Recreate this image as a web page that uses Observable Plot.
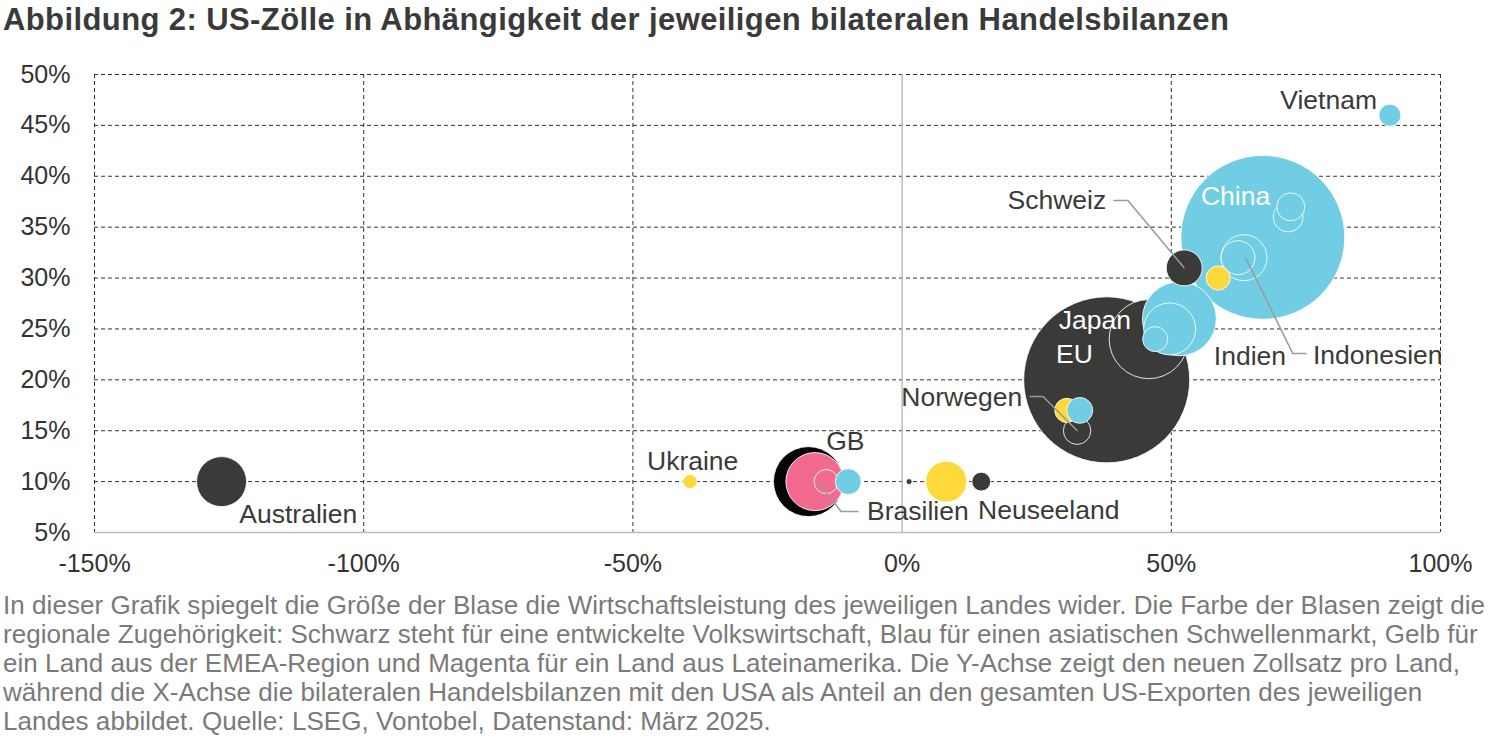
<!DOCTYPE html>
<html>
<head>
<meta charset="utf-8">
<script src="https://cdn.jsdelivr.net/npm/d3@7"></script>
<script src="https://cdn.jsdelivr.net/npm/@observablehq/plot@0.6"></script>
<style>
  body { margin: 0; background: #fff; font-family: "Liberation Sans", Arial, sans-serif; }
  #title { height: 45px; line-height: 40px; font-size: 31px; letter-spacing: 0.4px; font-weight: bold; color: #3a3a3a; padding-left: 3px; white-space: nowrap; }
  #caption { font-size: 26px; line-height: 29px; letter-spacing: 0.05px; color: #7a7a7a; padding-left: 3px; white-space: nowrap; }
  svg { display: block; }
</style>
</head>
<body>
<div id="title">Abbildung 2: US-Zölle in Abhängigkeit der jeweiligen bilateralen Handelsbilanzen</div>
<div id="chart"></div>
<div id="caption">In dieser Grafik spiegelt die Größe der Blase die Wirtschaftsleistung des jeweiligen Landes wider. Die Farbe der Blasen zeigt die<br>regionale Zugehörigkeit: Schwarz steht für eine entwickelte Volkswirtschaft, Blau für einen asiatischen Schwellenmarkt, Gelb für<br>ein Land aus der EMEA-Region und Magenta für ein Land aus Lateinamerika. Die Y-Achse zeigt den neuen Zollsatz pro Land,<br>während die X-Achse die bilateralen Handelsbilanzen mit den USA als Anteil an den gesamten US-Exporten des jeweiligen<br>Landes abbildet. Quelle: LSEG, Vontobel, Datenstand: März 2025.</div>
<script>
// Bubbles in drawing order (bottom to top)
const countries = ["EU","China","Japan","Indien","Südkorea","Malaysia","GB","Brasilien","Lateinamerika klein","Singapur","Australien","Indonesien","Taiwan","Thailand","Asien klein","Schweiz","Südafrika","Norwegen","Israel","Philippinen","Saudi-Arabien","Vietnam","Neuseeland","Ukraine","Entwickelt klein"];
const tradeBalance = [38.0, 67.0, 45.8, 51.5, 49.7, 47.0, -17.4, -16.2, -14.1, -10.0, -126.4, 63.5, 62.4, 71.7, 72.2, 52.4, 58.7, 32.5, 30.6, 33.0, 8.2, 90.6, 14.7, -39.4, 1.3];
const tariff = [20, 34, 24, 26, 25, 24, 10, 10, 10, 10, 10, 32, 32, 36, 37, 31, 30, 15, 17, 17, 10, 46, 10, 10, 10];
const gdp = [19.4, 18.9, 4.4, 3.85, 1.9, 0.44, 3.45, 2.37, 0.41, 0.47, 1.76, 1.49, 0.81, 0.63, 0.55, 0.91, 0.41, 0.53, 0.41, 0.47, 1.18, 0.34, 0.25, 0.14, 0.025];
const region = ["Entwickelt","Asien","Entwickelt","Asien","Asien","Asien","Großbritannien","Lateinamerika","Lateinamerika","Asien","Entwickelt","Asien","Asien","Asien","Asien","Entwickelt","EMEA","Entwickelt","EMEA","Asien","EMEA","Asien","Entwickelt","EMEA","Entwickelt"];

const regions = ["Entwickelt","Asien","EMEA","Lateinamerika","Großbritannien"];
const regionColors = ["#3a3b39","#70cde3","#fdda3a","#f26a8d","#050505"];

const yTicks = [5,10,15,20,25,30,35,40,45,50];
const xTicks = [-150,-100,-50,0,50,100];

// Label annotations (data units)
const labelStart = [
  {text:"Indien", x:57.9, y:22.3},
  {text:"Indonesien", x:76.3, y:22.4},
  {text:"GB", x:-14.1, y:13.9},
  {text:"Australien", x:-123.1, y:6.8},
  {text:"Brasilien", x:-6.5, y:7.1},
  {text:"Neuseeland", x:14.1, y:7.2}
];
const labelEnd = [
  {text:"Vietnam", x:88.2, y:47.4},
  {text:"Schweiz", x:37.9, y:37.6},
  {text:"Norwegen", x:22.3, y:18.3}
];
const labelMiddle = [
  {text:"Ukraine", x:-38.9, y:12.0}
];
const labelWhite = [
  {text:"China", x:55.5, y:38.0},
  {text:"Japan", x:29.1, y:25.8},
  {text:"EU", x:28.6, y:22.5}
];
const leaders = [
  {name:"Schweiz", x:39.35, y:37.61},{name:"Schweiz", x:41.95, y:37.61},{name:"Schweiz", x:52.35, y:31.03},
  {name:"Indonesien", x:75.0, y:22.58},{name:"Indonesien", x:72.58, y:22.58},{name:"Indonesien", x:63.86, y:31.92},
  {name:"Norwegen", x:23.76, y:18.36},{name:"Norwegen", x:26.17, y:18.36},{name:"Norwegen", x:32.49, y:15.02},
  {name:"Brasilien", x:-8.17, y:7.06},{name:"Brasilien", x:-11.32, y:7.06},{name:"Brasilien", x:-15.59, y:9.91}
];

const bubbles = countries.map((c, i) => ({name: c, x: tradeBalance[i], y: tariff[i], size: gdp[i], region: region[i]}));

const chart = Plot.plot({
  width: 1500,
  height: 546,
  marginLeft: 94,
  marginRight: 60,
  marginTop: 29,
  marginBottom: 59,
  style: {fontFamily: "'Liberation Sans', Arial, sans-serif", fontSize: "25px", color: "#333", background: "#fff"},
  x: {domain: [-150, 100]},
  y: {domain: [5, 50]},
  r: {type: "sqrt", domain: [0, 19.4], range: [0, 83]},
  color: {domain: regions, range: regionColors},
  marks: [
    Plot.gridY(yTicks.filter(d => d !== 5), {stroke: "#333", strokeOpacity: 1, strokeWidth: 1, strokeDasharray: "4,3"}),
    Plot.gridX(xTicks.filter(d => d !== 0), {stroke: "#333", strokeOpacity: 1, strokeWidth: 1, strokeDasharray: "4,3"}),
    Plot.ruleX([0], {stroke: "#bdbdbd", strokeWidth: 1.5}),
    Plot.ruleY([5], {stroke: "#bdbdbd", strokeWidth: 1.5}),
    Plot.axisY(yTicks, {tickSize: 0, tickPadding: 24, tickFormat: d => `${d}%`, fill: "#333", label: null}),
    Plot.axisX(xTicks, {tickSize: 0, tickPadding: 22, tickFormat: d => `${d}%`, fill: "#333", label: null}),
    Plot.dot(bubbles, {x: "x", y: "y", r: "size", fill: "region", stroke: "white", strokeWidth: 1, strokeOpacity: 0.85, sort: null}),
    Plot.line(leaders, {x: "x", y: "y", z: "name", stroke: "#9a9a9a", strokeWidth: 1.5}),
    Plot.text(labelStart, {x: "x", y: "y", text: "text", textAnchor: "start", fill: "#3a3a3a", fontSize: 26.5}),
    Plot.text(labelEnd, {x: "x", y: "y", text: "text", textAnchor: "end", fill: "#3a3a3a", fontSize: 26.5}),
    Plot.text(labelMiddle, {x: "x", y: "y", text: "text", textAnchor: "middle", fill: "#3a3a3a", fontSize: 26.5}),
    Plot.text(labelWhite, {x: "x", y: "y", text: "text", textAnchor: "start", fill: "#ffffff", fontSize: 26.5})
  ]
});
document.getElementById("chart").appendChild(chart);
</script>
</body>
</html>
